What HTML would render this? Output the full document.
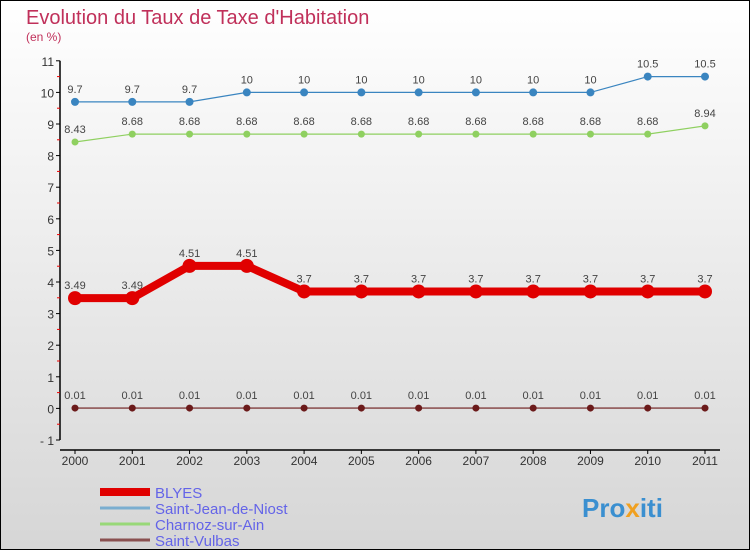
<!DOCTYPE html>
<html><head><meta charset="utf-8"><style>
body{margin:0}
svg{display:block;font-family:"Liberation Sans",sans-serif}
</style></head><body>
<svg id="c" width="750" height="550">
<defs><linearGradient id="bg" x1="0" y1="0" x2="0" y2="1"><stop offset="0" stop-color="#ffffff"/><stop offset="1" stop-color="#d6d6d6"/></linearGradient></defs>
<rect x="0.5" y="0.5" width="749" height="549" fill="url(#bg)" stroke="#000"/>
<text x="26" y="24" font-size="20" fill="#c0305a">Evolution du Taux de Taxe d'Habitation</text>
<text x="26" y="41" font-size="12" fill="#c0305a">(en %)</text>
<g id="axes"></g><g id="series"></g><g id="legend"></g>
<text x="582" y="517" font-size="26" font-weight="bold" fill="#3a8fd0">Pro<tspan fill="#f0a020">x</tspan><tspan fill="#3a8fd0">iti</tspan></text>
</svg>
<script>
const years=[2000,2001,2002,2003,2004,2005,2006,2007,2008,2009,2010,2011];
const yTicks=[-1,0,1,2,3,4,5,6,7,8,9,10,11];
const blyes=[3.49,3.49,4.51,4.51,3.7,3.7,3.7,3.7,3.7,3.7,3.7,3.7];
const saintJean=[9.7,9.7,9.7,10,10,10,10,10,10,10,10.5,10.5];
const charnoz=[8.43,8.68,8.68,8.68,8.68,8.68,8.68,8.68,8.68,8.68,8.68,8.94];
const saintVulbas=[0.01,0.01,0.01,0.01,0.01,0.01,0.01,0.01,0.01,0.01,0.01,0.01];
const seriesNames=["BLYES","Saint-Jean-de-Niost","Charnoz-sur-Ain","Saint-Vulbas"];
const NS="http://www.w3.org/2000/svg";
const xS=i=>75+i*(705-75)/(years.length-1);
const yS=v=>408.4-v*31.6;
function mk(tag,at,parent){const e=document.createElementNS(NS,tag);for(const k in at)e.setAttribute(k,at[k]);parent.appendChild(e);return e;}
const ax=document.getElementById('axes');
let l=mk('line',{x1:60,y1:yS(11),x2:60,y2:yS(-1),stroke:'#000','stroke-width':1.5},ax);


l=mk('line',{x1:60,y1:450,x2:720,y2:450,stroke:'#000','stroke-width':1.5},ax);


yTicks.forEach(v=>{
 const y=yS(v);
 mk('line',{x1:56,y1:y,x2:60,y2:y,stroke:'#000'},ax);
 if(v<11) mk('line',{x1:57,y1:y-15.8,x2:60,y2:y-15.8,stroke:'#e00'},ax);
 const t=mk('text',{x:54,y:y+5,'font-size':12,fill:'#333','text-anchor':'end'},ax);
 t.textContent=String(v).replace('-','- ');
 
 
});
years.forEach((yr,i)=>{
 const x=xS(i);
 mk('line',{x1:x,y1:450,x2:x,y2:454,stroke:'#000'},ax);
 const t=mk('text',{x:x,y:465,'font-size':12,fill:'#333','text-anchor':'middle'},ax);
 t.textContent=yr;
 
 
});
const sg=document.getElementById('series');
function series(vals,color,lw,r,name,fmt){
 const g=mk('g',{},sg);
 
 
 mk('polyline',{points:vals.map((v,i)=>xS(i)+','+yS(v)).join(' '),fill:'none',stroke:color,'stroke-width':lw},g);
 vals.forEach((v,i)=>{
  const c=mk('circle',{cx:xS(i),cy:yS(v),r:r,fill:color},g);
  
  
  const t=mk('text',{x:xS(i),y:yS(v)-9,'font-size':11,fill:'#444','text-anchor':'middle'},g);
  t.textContent=fmt(v);
 });
}
const f=v=>String(v).replace(/^0\./,'0.0').replace('0.001','0.01');
series(saintJean,'#3a85c0',1.2,4,'saint-jean-de-niost-series',v=>String(v));
series(charnoz,'#8fd060',1.2,3.5,'charnoz-sur-ain-series',v=>String(v));
series(saintVulbas,'#6b1a1a',1.2,3.5,'saint-vulbas-series',v=>'0.01');
series(blyes,'#e00000',8,7,'blyes-series',v=>String(v));
const lg=document.getElementById('legend');
const cols=['#e00000','#7aaed0','#98d878','#8a5050'],ws=[8,3,3,3];
seriesNames.forEach((n,i)=>{
 const y=492+i*16;
 const g=mk('g',{},lg);
 
 
 mk('line',{x1:100,y1:y,x2:150,y2:y,stroke:cols[i],'stroke-width':ws[i]},g);
 const t=mk('text',{x:155,y:y+6,'font-size':15,fill:'#6464e8'},g);
 t.textContent=n;
});
</script>
</body></html>
